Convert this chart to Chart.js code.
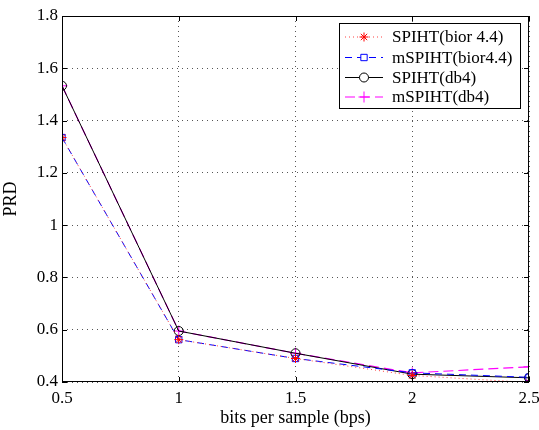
<!DOCTYPE html>
<html>
<head>
<meta charset="utf-8">
<script src="https://cdn.jsdelivr.net/npm/chart.js@4.4.0/dist/chart.umd.min.js"></script>
<style>
  html, body { margin: 0; padding: 0; background: #fff; }
  #wrap { width: 539px; height: 430px; }
</style>
</head>
<body>
<div id="wrap"><canvas id="prdChart" width="539" height="430"></canvas></div>
<script>
// bits per sample on the x axis
const bps = [0.5, 1, 1.5, 2, 2.5];

// PRD values per coder
const spihtBior = [1.335, 0.562, 0.490, 0.425, 0.398];
const mspihtBior = [1.335, 0.562, 0.490, 0.435, 0.418];
const spihtDb4 = [1.533, 0.595, 0.510, 0.430, 0.416];
const mspihtDb4 = [1.533, 0.595, 0.510, 0.435, 0.458];

const xTicks = [0.5, 1, 1.5, 2, 2.5];
const yTicks = [0.4, 0.6, 0.8, 1, 1.2, 1.4, 1.6, 1.8];

const serif = '"Liberation Serif", "Times New Roman", serif';

function pts(ys) {
    return bps.map((x, i) => ({ x: x, y: ys[i] }));
}

const series = [
    { label: 'SPIHT(bior 4.4)', data: pts(spihtBior), borderColor: '#ff4040', pointBorderColor: '#ff0000',
      borderDash: [1, 3], borderWidth: 1, pointStyle: 'star', pointRadius: 4.5 },
    { label: 'mSPIHT(bior4.4)', data: pts(mspihtBior), borderColor: '#0000ff', pointBorderColor: '#0000ff',
      borderDash: [7, 5], borderWidth: 1, pointStyle: 'rect', pointRadius: 4.5 },
    { label: 'SPIHT(db4)', data: pts(spihtDb4), borderColor: '#000000', pointBorderColor: '#000000',
      borderDash: [], borderWidth: 1, pointStyle: 'circle', pointRadius: 4.5 },
    { label: 'mSPIHT(db4)', data: pts(mspihtDb4), borderColor: '#ff00ff', pointBorderColor: '#ff00ff',
      borderDash: [10, 5], borderWidth: 1.2, pointStyle: 'cross', pointRadius: 5.5 }
];

// box, inward ticks and legend in MATLAB style
const matlabFrame = {
    id: 'matlabFrame',
    afterDraw(chart) {
        const ctx = chart.ctx;
        const a = chart.chartArea;
        const xs = chart.scales.x, ys = chart.scales.y;
        ctx.save();
        ctx.strokeStyle = '#000';
        ctx.lineWidth = 1;
        ctx.setLineDash([]);
        ctx.strokeRect(a.left + 0.5, a.top + 0.5, a.right - a.left - 1, a.bottom - a.top - 1);
        ctx.beginPath();
        xTicks.forEach(v => {
            const px = Math.round(xs.getPixelForValue(v)) + 0.5;
            ctx.moveTo(px, a.bottom); ctx.lineTo(px, a.bottom - 5);
            ctx.moveTo(px, a.top); ctx.lineTo(px, a.top + 5);
        });
        yTicks.forEach(v => {
            const py = Math.round(ys.getPixelForValue(v)) + 0.5;
            ctx.moveTo(a.left, py); ctx.lineTo(a.left + 5, py);
            ctx.moveTo(a.right, py); ctx.lineTo(a.right - 5, py);
        });
        ctx.stroke();

        // legend box
        const lx = 339, ly = 23, lw = 181, lh = 85;
        ctx.fillStyle = '#fff';
        ctx.fillRect(lx, ly, lw, lh);
        ctx.strokeRect(lx + 0.5, ly + 0.5, lw, lh);
        ctx.font = '17px ' + serif;
        ctx.textBaseline = 'middle';
        const rows = [37, 57.5, 77.5, 97];
        chart.data.datasets.forEach((ds, i) => {
            const y = rows[i];
            ctx.strokeStyle = ds.borderColor;
            ctx.lineWidth = ds.borderWidth;
            ctx.setLineDash(ds.borderDash);
            ctx.beginPath();
            ctx.moveTo(345, y); ctx.lineTo(383, y);
            ctx.stroke();
            ctx.setLineDash([]);
            ctx.fillStyle = '#fff';
            ctx.strokeStyle = ds.pointBorderColor;
            ctx.lineWidth = 1;
            Chart.helpers.drawPoint(ctx, {
                pointStyle: ds.pointStyle, radius: ds.pointRadius, borderWidth: 1, rotation: 0
            }, 364, y);
            ctx.fillStyle = '#000';
            ctx.fillText(ds.label, 392, y + 1);
        });
        ctx.restore();
    }
};

new Chart(document.getElementById('prdChart').getContext('2d'), {
    type: 'line',
    data: {
        datasets: series.map(s => Object.assign({
            fill: false,
            tension: 0,
            pointBackgroundColor: 'rgba(0,0,0,0)',
            pointBorderWidth: 1,
            pointHoverRadius: 5
        }, s))
    },
    options: {
        responsive: false,
        animation: false,
        devicePixelRatio: 1,
        layout: { padding: { left: 0, right: 10, top: 16, bottom: 0 } },
        plugins: { legend: { display: false }, tooltip: { enabled: false } },
        scales: {
            x: {
                type: 'linear',
                min: 0.5, max: 2.5,
                afterBuildTicks: axis => { axis.ticks = xTicks.map(v => ({ value: v })); },
                afterFit: axis => { axis.height = 48; axis.paddingLeft = 0; axis.paddingRight = 0; },
                ticks: { color: '#000', font: { family: serif, size: 17 }, padding: 6,
                         callback: v => String(v) },
                grid: { color: '#555', drawTicks: false, lineWidth: 1 },
                border: { display: false, dash: [1, 4] },
                title: { display: true, text: 'bits per sample (bps)', color: '#000',
                         font: { family: serif, size: 18 }, padding: { top: 0, bottom: 1 } }
            },
            y: {
                min: 0.4, max: 1.8,
                afterBuildTicks: axis => { axis.ticks = yTicks.map(v => ({ value: v })); },
                afterFit: axis => { axis.width = 62; axis.paddingTop = 0; axis.paddingBottom = 0; },
                ticks: { color: '#000', font: { family: serif, size: 17 }, padding: 4,
                         callback: v => String(v) },
                grid: { color: '#555', drawTicks: false, lineWidth: 1 },
                border: { display: false, dash: [1, 4] },
                title: { display: true, text: 'PRD', color: '#000',
                         font: { family: serif, size: 18 }, padding: { top: 0, bottom: 2 } }
            }
        }
    },
    plugins: [matlabFrame]
});
</script>
</body>
</html>
